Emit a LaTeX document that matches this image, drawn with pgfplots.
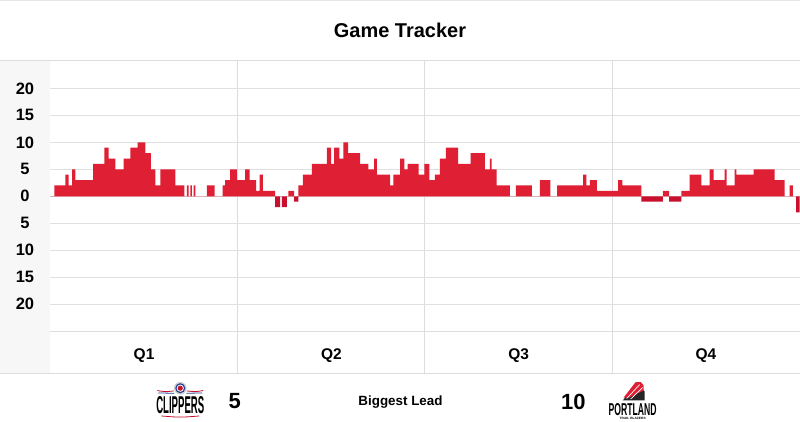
\documentclass[border=0pt]{standalone}
\usepackage{fontspec}
\setmainfont{Liberation Sans}
\usepackage{graphicx}
\usepackage{pgfplots}
\usepackage{pgfplotstable}
\pgfplotsset{compat=1.18}
\definecolor{porRed}{RGB}{222,31,52}
\definecolor{lacRed}{RGB}{200,16,46}
\definecolor{lacBlue}{RGB}{29,66,148}
\definecolor{gridGray}{RGB}{224,224,224}
\definecolor{colGray}{RGB}{247,247,247}
\definecolor{lineGray}{RGB}{221,221,221}
% game minute, lead (positive = Portland, negative = Clippers)
\pgfplotstableread{
t v
0 0
0.26 2
0.96 4
1.17 2
1.39 5
1.60 3
2.73 6
3.46 9
3.73 7
4.16 5
4.69 7
5.12 9
5.59 10
6.08 8
6.43 5
6.72 2
7.04 5
8.00 2
8.58 0
8.75 2
8.85 0
8.96 2
9.07 0
9.17 2
9.28 0
10.03 2
10.52 0
11.04 2
11.20 3
11.52 5
11.95 3
12.48 5
12.76 3
13.18 1
13.40 4
13.61 1
14.40 -2
14.72 0
14.83 -2
15.15 0
15.25 1
15.62 -1
15.89 2
16.17 4
16.75 6
17.71 9
17.98 6
18.18 9
18.52 7
18.77 10
19.07 8
19.84 6
20.37 5
20.74 7
20.91 4
21.76 2
21.97 4
22.40 7
22.68 5
22.89 6
23.60 4
23.96 6
24.28 3
24.64 4
24.96 7
25.34 9
26.13 6
26.92 8
27.84 5
28.16 7
28.27 5
28.59 2
29.44 0
29.82 2
30.85 0
31.36 3
32.04 0
32.47 2
34.13 4
34.35 2
34.56 3
35.01 1
36.37 3
36.65 2
37.87 -1
39.25 1
39.64 -1
40.43 1
40.96 4
41.71 2
42.24 5
42.50 3
43.20 5
43.33 2
43.84 5
43.95 4
45.06 5
46.40 3
47.04 0
47.36 2
47.57 0
47.79 -3
48.00 -3
}\lead
\begin{document}
\begin{tikzpicture}[x=1bp,y=1bp]
\fill[white] (0,0) rectangle (800,422);
\fill[colGray] (0,48) rectangle (49.5,361);
\draw[lineGray, line width=1bp] (237.5,48) -- (237.5,361);
\draw[lineGray, line width=1bp] (425,48) -- (425,361);
\draw[lineGray, line width=1bp] (612.5,48) -- (612.5,361);
\begin{axis}[
  at={(50bp,90bp)}, anchor=south west,
  scale only axis, width=750bp, height=271bp,
  xmin=0, xmax=48, ymin=-25.1, ymax=25.1,
  axis line style={draw=none},
  tick style={draw=none},
  ytick={-20,-15,...,20},
  yticklabels={20,15,10,5,0,5,10,15,20},
  ymajorgrids,
  major grid style={draw=gridGray, line width=1bp},
  xtick={6,18,30,42},
  xticklabels={Q1,Q2,Q3,Q4},
  yticklabel style={font=\fontsize{16.5bp}{19bp}\selectfont\bfseries, anchor=center, xshift=-25.5bp},
  xticklabel style={font=\fontsize{15.5bp}{18bp}\selectfont\bfseries, anchor=center, yshift=-24bp},
  clip=false,
]
\addplot[const plot, draw=none, fill=porRed] table[x=t, y expr={max(\thisrow{v},0)}] {\lead} \closedcycle;
\addplot[const plot, draw=none, fill=lacRed] table[x=t, y expr={min(\thisrow{v},0)}] {\lead} \closedcycle;
\end{axis}
\draw[lineGray, line width=1bp] (0,361) -- (800,361);
\draw[lineGray, line width=1bp] (50,90) -- (800,90);
\draw[lineGray, line width=1bp] (0,48) -- (800,48);
\draw[lineGray!70, line width=0.8bp] (0,421.6) -- (800,421.6);
\node[font=\fontsize{20bp}{24bp}\selectfont\bfseries] at (400,392) {Game Tracker};
\node[font=\fontsize{22bp}{26bp}\selectfont\bfseries] at (234.6,20) {5};
\node[font=\fontsize{13.4bp}{16bp}\selectfont\bfseries] at (400.5,19) {Biggest Lead};
\node[font=\fontsize{22bp}{26bp}\selectfont\bfseries] at (573.6,20) {10};
% Clippers mark
\fill[gray!40] (180,33.3) circle (6.3);
\fill[lacBlue] (180,33.3) circle (5);
\fill[white] (180,33.3) circle (3.6);
\fill[lacRed] (180,33.3) circle (2.6);
\draw[lacRed, line width=0.8bp] (157,31) .. controls (165,29.6) .. (173.5,30.6);
\draw[lacRed, line width=0.8bp] (203,31) .. controls (195,29.6) .. (186.5,30.6);
\draw[lacBlue, line width=0.8bp] (158,28.6) .. controls (166,27.4) .. (174,28.2);
\draw[lacBlue, line width=0.8bp] (202,28.6) .. controls (194,27.4) .. (186,28.2);
\node[inner sep=0pt, anchor=south] at (180,8) {\resizebox{48bp}{17bp}{\bfseries CLIPPERS}};
\draw[lacRed, line width=0.8bp] (161,5.5) .. controls (180,4) .. (199,5.5);
% Portland mark
\fill[black!85] (623,21) -- (645,21) -- (645,30) -- (637,38) -- cycle;
\fill[porRed] (624,24) -- (636,39.5) -- (641,39.5) -- (644,36) -- (644,31) -- (630,24) -- cycle;
\draw[white, line width=0.7bp] (627,23) -- (640,37);
\draw[white, line width=0.7bp] (631,22.5) -- (643,34);
\node[inner sep=0pt, anchor=south] at (633,6) {\resizebox{48bp}{12bp}{\bfseries PORTLAND}};
\node[inner sep=0pt] at (633,2.6) {\resizebox{26bp}{2.2bp}{\bfseries TRAIL BLAZERS}};
\end{tikzpicture}
\end{document}
